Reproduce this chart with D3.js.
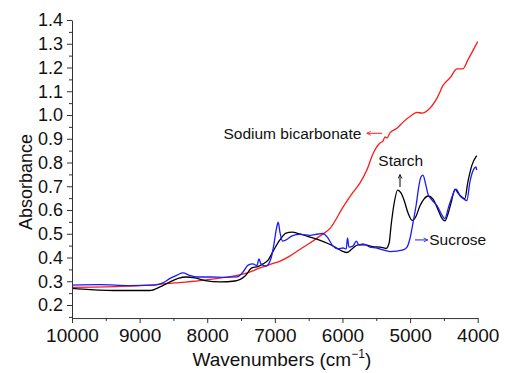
<!DOCTYPE html>
<html>
<head>
<meta charset="utf-8">
<script src="https://cdn.jsdelivr.net/npm/d3@7"></script>
<style>
  html, body { margin: 0; padding: 0; background: #fff; }
  svg { display: block; font-family: "Liberation Sans", Arial, Helvetica, sans-serif; }
</style>
</head>
<body>
<svg id="chart" width="505" height="373"></svg>
<script>
// ---- data ----
const xTicks = [10000, 9000, 8000, 7000, 6000, 5000, 4000];
const yTicks = [0.2, 0.3, 0.4, 0.5, 0.6, 0.7, 0.8, 0.9, 1.0, 1.1, 1.2, 1.3, 1.4];

const bicarbWn  = [10000, 9290, 8850, 8480, 8110, 7740, 7410, 7220, 7070, 6920, 6780, 6630, 6480, 6330, 6180, 5990, 5840, 5740, 5640, 5550, 5445, 5400, 5370, 5340, 5300, 5190, 5100, 4970, 4900, 4820, 4735, 4600, 4510, 4410, 4305, 4220, 4145, 4000];
const bicarbAbs = [0.274, 0.278, 0.284, 0.293, 0.303, 0.316, 0.335, 0.356, 0.371, 0.385, 0.406, 0.434, 0.461, 0.491, 0.524, 0.613, 0.676, 0.714, 0.768, 0.836, 0.882, 0.891, 0.908, 0.903, 0.924, 0.945, 0.971, 1.000, 1.011, 1.008, 1.021, 1.072, 1.126, 1.156, 1.194, 1.194, 1.232, 1.309];

const starchWn  = [10000, 9730, 9290, 8850, 8700, 8580, 8430, 8315, 8180, 8030, 7810, 7590, 7440, 7340, 7250, 7175, 7100, 7015, 6925, 6835, 6745, 6630, 6480, 6330, 6215, 6110, 6005, 5935, 5860, 5770, 5665, 5550, 5445, 5355, 5310, 5280, 5240, 5185, 5135, 5090, 5030, 4970, 4910, 4855, 4795, 4735, 4660, 4585, 4530, 4485, 4440, 4395, 4335, 4290, 4235, 4190, 4145, 4085, 4015];
const starchAbs = [0.270, 0.265, 0.261, 0.261, 0.276, 0.293, 0.312, 0.318, 0.314, 0.303, 0.297, 0.301, 0.322, 0.356, 0.362, 0.373, 0.389, 0.432, 0.474, 0.503, 0.507, 0.499, 0.486, 0.472, 0.459, 0.444, 0.427, 0.421, 0.436, 0.453, 0.453, 0.446, 0.444, 0.438, 0.461, 0.537, 0.621, 0.684, 0.672, 0.642, 0.587, 0.556, 0.575, 0.617, 0.646, 0.659, 0.646, 0.600, 0.566, 0.554, 0.583, 0.629, 0.688, 0.671, 0.655, 0.648, 0.718, 0.789, 0.829];

const sucroseWn  = [10000, 9585, 9140, 8775, 8655, 8550, 8445, 8360, 8255, 8150, 7960, 7740, 7560, 7470, 7395, 7325, 7265, 7235, 7205, 7130, 7055, 7015, 6975, 6950, 6925, 6885, 6835, 6745, 6630, 6480, 6360, 6290, 6230, 6140, 6065, 5990, 5945, 5925, 5905, 5845, 5795, 5755, 5695, 5595, 5490, 5400, 5300, 5195, 5105, 5045, 5000, 4955, 4910, 4870, 4840, 4810, 4770, 4735, 4675, 4600, 4530, 4485, 4430, 4380, 4320, 4260, 4205, 4160, 4115, 4065, 4025, 4015];
const sucroseAbs = [0.284, 0.286, 0.282, 0.284, 0.293, 0.312, 0.326, 0.335, 0.324, 0.318, 0.318, 0.316, 0.318, 0.339, 0.368, 0.373, 0.366, 0.394, 0.373, 0.364, 0.398, 0.453, 0.524, 0.549, 0.507, 0.469, 0.474, 0.491, 0.497, 0.493, 0.499, 0.501, 0.488, 0.448, 0.436, 0.440, 0.436, 0.482, 0.444, 0.448, 0.469, 0.453, 0.457, 0.444, 0.440, 0.432, 0.425, 0.427, 0.432, 0.444, 0.482, 0.549, 0.621, 0.701, 0.739, 0.747, 0.709, 0.667, 0.642, 0.617, 0.579, 0.564, 0.613, 0.655, 0.688, 0.659, 0.646, 0.640, 0.718, 0.768, 0.781, 0.768];

const seriesNames  = ["Sodium bicarbonate", "Starch", "Sucrose"];
const seriesColors = ["#ff1a1a", "#000000", "#1a1aff"];

// label anchors in data units: [wavenumber, absorbance]
const labelAt  = [[7760, 0.898], [5470, 0.786], [4716, 0.452]];
const arrowFrom = [[5415, 0.923], [5149, 0.697], [4927, 0.474]];
const arrowTo   = [[5640, 0.923], [5149, 0.749], [4740, 0.474]];

// ---- drawing ----
const svg = d3.select("#chart");
const margin = {left: 72, right: 27.3, top: 20, bottom: 55};
const W = 505, H = 373;

const x = d3.scaleLinear().domain([10000, 4000]).range([margin.left, W - margin.right]);
const y = d3.scaleLinear().domain([0.2, 1.4]).range([305, 20]);
const yBottom = 0.145;
const axisY = y(yBottom);

// defs for arrowheads
const defs = svg.append("defs");
seriesColors.forEach((c, i) => {
  defs.append("marker")
    .attr("id", "ah" + i)
    .attr("viewBox", "0 0 10 10")
    .attr("refX", 9).attr("refY", 5)
    .attr("markerWidth", 5).attr("markerHeight", 5)
    .attr("orient", "auto")
    .append("path")
    .attr("d", "M1,1 L9,5 L1,9")
    .attr("fill", "none")
    .attr("stroke", c)
    .attr("stroke-width", 1.6);
});

const seriesData = [
  bicarbWn.map((w, i) => [w, bicarbAbs[i]]),
  starchWn.map((w, i) => [w, starchAbs[i]]),
  sucroseWn.map((w, i) => [w, sucroseAbs[i]])
];

const line = d3.line().x(d => x(d[0])).y(d => y(d[1])).curve(d3.curveMonotoneX);

// draw order: red, black, blue on top
[0, 1, 2].forEach(i => {
  svg.append("path")
    .datum(seriesData[i])
    .attr("fill", "none")
    .attr("stroke", seriesColors[i])
    .attr("stroke-width", 1.3)
    .attr("stroke-linejoin", "round")
    .attr("d", line);
});

// axes
const xMinor = d3.range(4500, 10000, 1000);
const yMinor = d3.range(0.15, 1.4, 0.1).map(v => +v.toFixed(2));

const xAxisG = svg.append("g").attr("transform", `translate(0,${axisY})`)
  .call(d3.axisBottom(x).tickValues(xTicks).tickFormat(d3.format("d")).tickSize(5).tickSizeOuter(0).tickPadding(5));
xAxisG.selectAll("text").attr("font-size", 19).attr("fill", "#111").attr("font-family", null);
svg.append("g").attr("transform", `translate(0,${axisY})`)
  .call(d3.axisBottom(x).tickValues(xMinor).tickFormat("").tickSize(3).tickSizeOuter(0))
  .select(".domain").remove();

const yAxisG = svg.append("g").attr("transform", `translate(${margin.left},0)`)
  .call(d3.axisLeft(y.copy().domain([yBottom, 1.4]).range([axisY, 20])).tickValues(yTicks).tickFormat(d3.format(".1f")).tickSize(5).tickSizeOuter(0).tickPadding(4));
yAxisG.selectAll("text").attr("font-size", 18).attr("fill", "#111").attr("font-family", null);
svg.append("g").attr("transform", `translate(${margin.left},0)`)
  .call(d3.axisLeft(y.copy().domain([yBottom, 1.4]).range([axisY, 20])).tickValues(yMinor).tickFormat("").tickSize(3).tickSizeOuter(0))
  .select(".domain").remove();

svg.selectAll(".domain, .tick line").attr("stroke", "#333").attr("stroke-width", 1);

// axis titles
const xt = svg.append("text")
  .attr("x", (margin.left + W - margin.right) / 2 + 7)
  .attr("y", 366)
  .attr("text-anchor", "middle")
  .attr("font-size", 19)
  .attr("fill", "#111");
xt.append("tspan").text("Wavenumbers (cm");
xt.append("tspan").text("\u22121").attr("font-size", 12).attr("dy", -8);
xt.append("tspan").text(")").attr("dy", 8);

svg.append("text")
  .attr("transform", `translate(32,${182}) rotate(-90)`)
  .attr("text-anchor", "middle")
  .attr("font-size", 18)
  .attr("fill", "#111")
  .text("Absorbance");

// annotations
seriesNames.forEach((name, i) => {
  svg.append("text")
    .attr("x", x(labelAt[i][0]))
    .attr("y", y(labelAt[i][1]))
    .attr("font-size", 15.5)
    .attr("fill", "#111")
    .text(name);
  svg.append("line")
    .attr("x1", x(arrowFrom[i][0])).attr("y1", y(arrowFrom[i][1]))
    .attr("x2", x(arrowTo[i][0])).attr("y2", y(arrowTo[i][1]))
    .attr("stroke", seriesColors[i])
    .attr("stroke-width", 1)
    .attr("marker-end", `url(#ah${i})`);
});
</script>
</body>
</html>
